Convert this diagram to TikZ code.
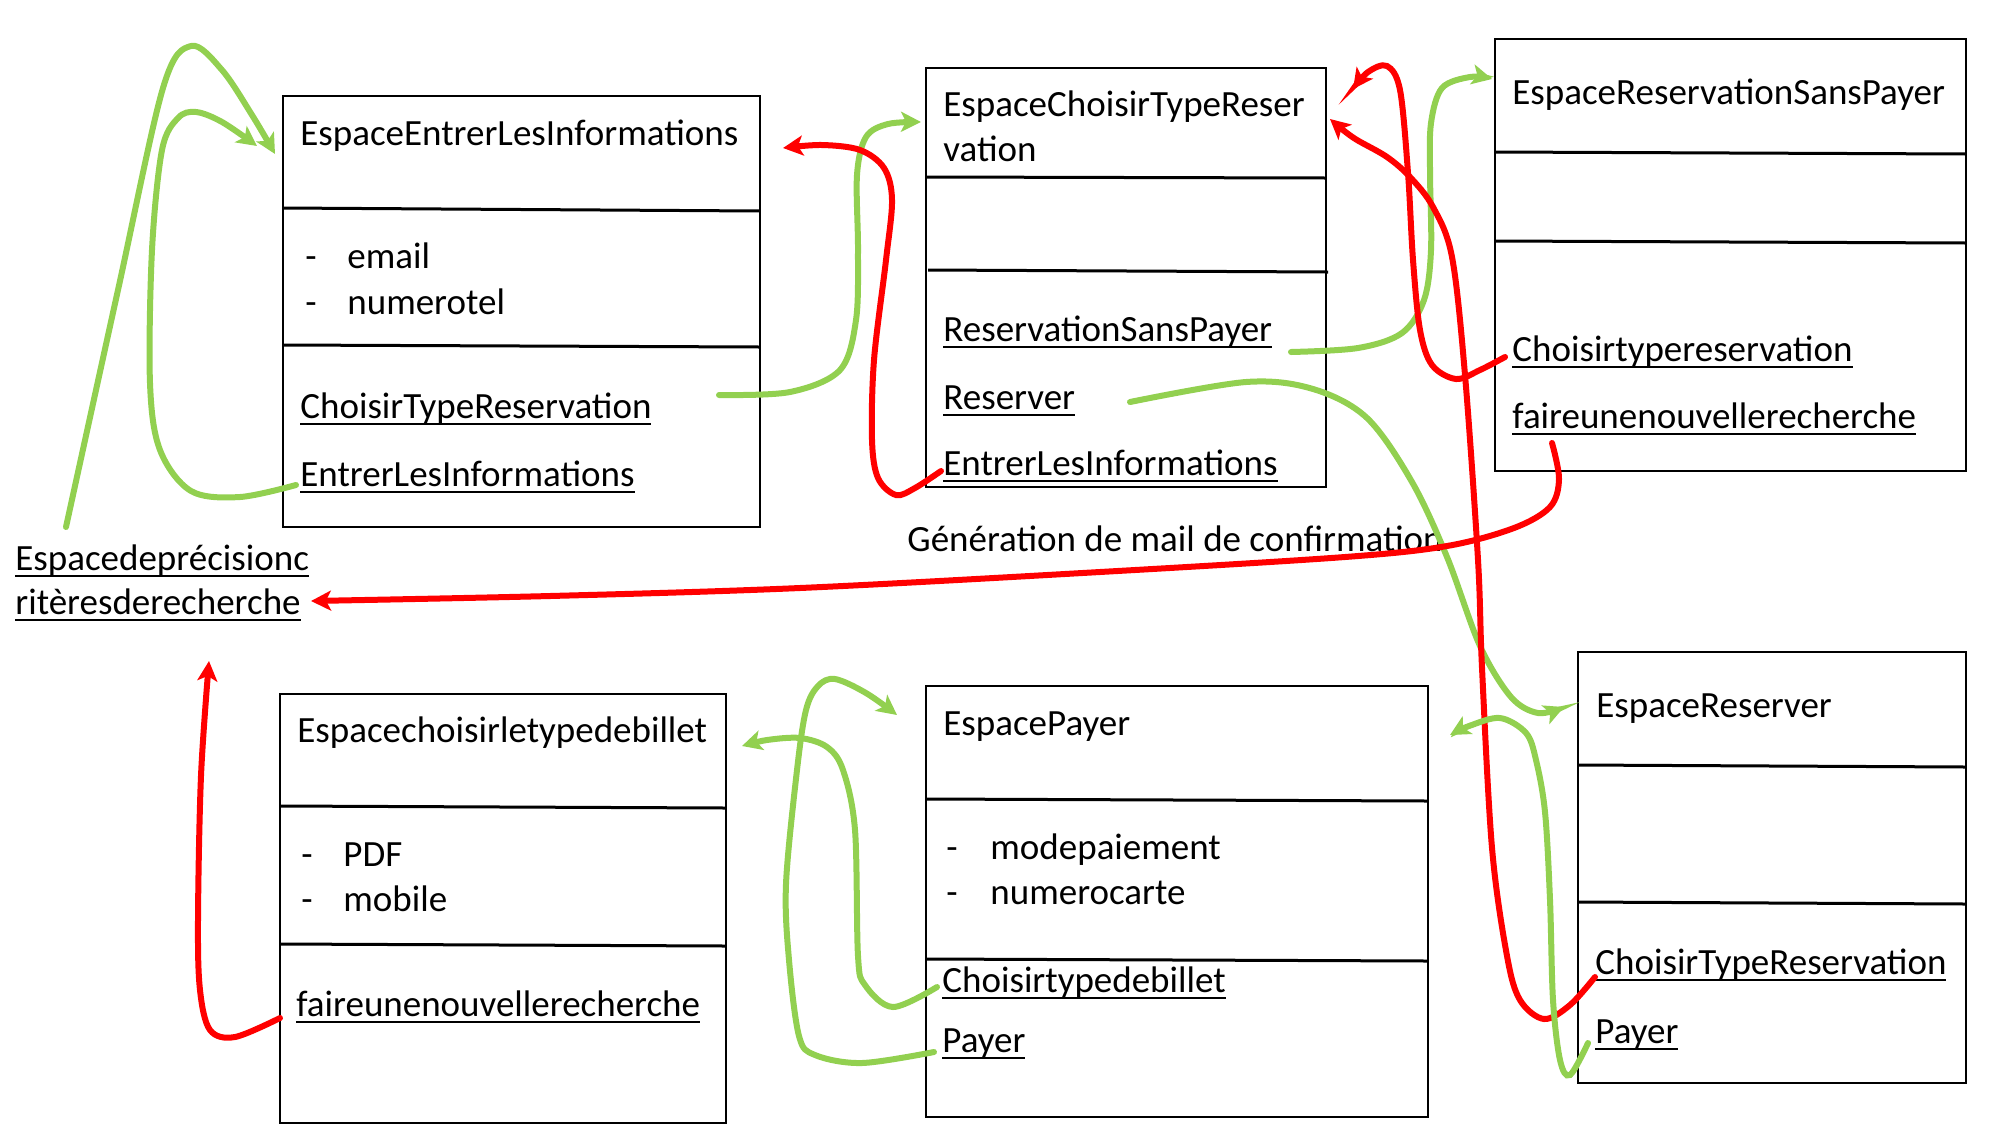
\documentclass[tikz,border=0pt]{standalone}
\usepackage{fontspec}
\setmainfont{Carlito}
\usetikzlibrary{arrows.meta}
\definecolor{lgreen}{HTML}{92D050}
\definecolor{lred}{HTML}{FF0000}
\newcommand\myul[1]{\setbox0\hbox{#1}\rlap{\rule[-3.3pt]{\wd0}{0.9pt}}\box0}
\begin{document}
\begin{tikzpicture}[x=0.5pt,y=-0.5pt,
  txt/.style={anchor=base west,inner sep=0pt,font=\fontsize{18.5}{23}\selectfont},
  umlbox/.style={draw=black,line width=1pt,anchor=north west,inner sep=0pt,outer sep=0pt},
  divline/.style={black,line width=1.5pt},
  gconn/.style={lgreen,line width=3pt,line cap=round,-{Stealth[length=10pt,width=10pt,inset=2.5pt]}},
  rconn/.style={lred,line width=3pt,line cap=round,-{Stealth[length=10pt,width=10pt,inset=2.5pt]}}]
\useasboundingbox (0,0) rectangle (2000,1125);
% boxes
\node[umlbox,minimum width=238.5pt,minimum height=215.5pt] (b1) at (283,96) {};
\node[umlbox,minimum width=200pt,minimum height=209.5pt] (b2) at (926,68) {};
\node[umlbox,minimum width=235.5pt,minimum height=216pt] (b3) at (1495,39) {};
\node[umlbox,minimum width=223pt,minimum height=214.5pt] (b4) at (280,694) {};
\node[umlbox,minimum width=251pt,minimum height=215.5pt] (b5) at (926,686) {};
\node[umlbox,minimum width=194pt,minimum height=215.5pt] (b6) at (1578,652) {};
% dividers
\draw[divline] (283,208) -- (760,211);
\draw[divline] (283,345) -- (760,347);
\draw[divline] (926,177) -- (1326,178);
\draw[divline] (928,270) -- (1328,272);
\draw[divline] (1495,152) -- (1966,154);
\draw[divline] (1495,241) -- (1966,243);
\draw[divline] (280,806) -- (726,808);
\draw[divline] (280,944) -- (726,946);
\draw[divline] (926,799) -- (1428,801);
\draw[divline] (926,959) -- (1428,961);
\draw[divline] (1578,765) -- (1966,767);
\draw[divline] (1578,902) -- (1966,904);
% box 1
\node[txt] (t1) at (300,145) {EspaceEntrerLesInformations};
\node[txt] (a1d1) at (305,268) {-};
\node[txt] (a1a) at (347,268) {email};
\node[txt] (a1d2) at (305,314) {-};
\node[txt] (a1b) at (347,314) {numerotel};
\node[txt] (o1a) at (300,418) {\myul{ChoisirTypeReservation}};
\node[txt] (o1b) at (300,486) {\myul{EntrerLesInformations}};
% box 2
\node[txt] (t2a) at (943,116) {EspaceChoisirTypeReser};
\node[txt] (t2b) at (943,161) {vation};
\node[txt] (o2a) at (943,341) {\myul{ReservationSansPayer}};
\node[txt] (o2b) at (943,409) {\myul{Reserver}};
\node[txt] (o2c) at (943,475) {\myul{EntrerLesInformations}};
% box 3
\node[txt] (t3) at (1512,104) {EspaceReservationSansPayer};
\node[txt] (o3a) at (1512,361) {\myul{Choisirtypereservation}};
\node[txt] (o3b) at (1512,428) {\myul{faireunenouvellerecherche}};
% box 4
\node[txt] (t4) at (297,742) {Espacechoisirletypedebillet};
\node[txt] (a4d1) at (301,866) {-};
\node[txt] (a4a) at (343,866) {PDF};
\node[txt] (a4d2) at (301,911) {-};
\node[txt] (a4b) at (343,911) {mobile};
\node[txt] (o4a) at (296,1016) {\myul{faireunenouvellerecherche}};
% box 5
\node[txt] (t5) at (943,735) {EspacePayer};
\node[txt] (a5d1) at (946,859) {-};
\node[txt] (a5a) at (990,859) {modepaiement};
\node[txt] (a5d2) at (946,904) {-};
\node[txt] (a5b) at (990,904) {numerocarte};
\node[txt] (o5a) at (942,992) {\myul{Choisirtypedebillet}};
\node[txt] (o5b) at (942,1052) {\myul{Payer}};
% box 6
\node[txt] (t6) at (1596,717) {EspaceReserver};
\node[txt] (o6a) at (1595,974) {\myul{ChoisirTypeReservation}};
\node[txt] (o6b) at (1595,1043) {\myul{Payer}};
% free labels
\node[txt] (l1a) at (15,570) {\myul{Espacedeprécisionc}};
\node[txt] (l1b) at (15,614) {\myul{ritèresderecherche}};
\node[txt] (gen) at (907,551) {Génération de mail de confirmation};
% connector ends
\coordinate (g1s) at (66,527);   \coordinate (g1e) at (275,154);
\coordinate (g2s) at (296,485);  \coordinate (g2e) at (257,146);
\coordinate (g3s) at (719,395);  \coordinate (g3e) at (921,122);
\coordinate (r1s) at (941,471);  \coordinate (r1e) at (783,148);
\coordinate (g4s) at (1291,352); \coordinate (g4e) at (1492,79);
\coordinate (g5s) at (1130,402); \coordinate (g5e) at (1564,707);
\coordinate (r2s) at (1505,357); \coordinate (r2e) at (1353,89);
\coordinate (r3s) at (1595,977); \coordinate (r3e) at (1330,119);
\coordinate (r4s) at (1552,443); \coordinate (r4e) at (311,601);
\coordinate (r5s) at (280,1018); \coordinate (r5e) at (209,661);
\coordinate (g6s) at (937,987);  \coordinate (g6e) at (742,746);
\coordinate (g7s) at (934,1052); \coordinate (g7e) at (897,715);
\coordinate (g8s) at (1588,1043);\coordinate (g8e) at (1450,735);
% connectors
\draw[gconn] plot[smooth,tension=0.55] coordinates {(g1s) (118,290) (163,88) (191,46) (222,70) (252,115) (g1e)};
\draw[gconn] plot[smooth,tension=0.55] coordinates {(g2s) (240,497) (191,491) (160,450) (150,383) (152,250) (162,150) (178,118) (196,112) (222,122) (g2e)};
\draw[gconn] plot[smooth,tension=0.55] coordinates {(g3s) (790,392) (840,370) (856,320) (858,250) (857,175) (866,137) (888,124) (g3e)};
\draw[rconn] plot[smooth,tension=0.55] coordinates {(r1s) (915,488) (896,495) (878,478) (872,440) (874,360) (886,260) (892,200) (884,168) (860,150) (822,145) (r1e)};
\draw[gconn] plot[smooth,tension=0.55] coordinates {(g4s) (1358,348) (1402,333) (1424,300) (1431,250) (1430,173) (1431,123) (1442,88) (1470,77) (g4e)};
\draw[gconn] plot[smooth,tension=0.55] coordinates {(g5s) (1246,382) (1313,389) (1367,418) (1412,482) (1447,557) (1480,646) (1511,697) (1538,713) (g5e)};
\draw[rconn] plot[smooth,tension=0.55] coordinates {(r2s) (1480,370) (1456,379) (1432,365) (1420,330) (1413,260) (1408,173) (1400,90) (1387,66) (1368,72) (r2e)};
\draw[rconn] plot[smooth,tension=0.55] coordinates {(r3s) (1570,1005) (1544,1019) (1520,1000) (1507,956) (1492,848) (1482,668) (1478,560) (1465,375) (1452,257) (1433,207) (1410,177) (1387,157) (1357,140) (1343,130) (r3e)};
\draw[rconn] plot[smooth,tension=0.55] coordinates {(r4s) (1559,479) (1550,507) (1514,528) (1447,546) (1345,557) (1100,572) (800,588) (550,596) (r4e)};
\draw[rconn] plot[smooth,tension=0.55] coordinates {(r5s) (235,1037) (210,1030) (200,990) (198,920) (201,776) (r5e)};
\draw[gconn] plot[smooth,tension=0.55] coordinates {(g6s) (893,1007) (865,985) (858,956) (855,830) (843,770) (827,747) (800,738) (767,740) (g6e)};
\draw[gconn] plot[smooth,tension=0.55] coordinates {(g7s) (862,1063) (815,1055) (799,1036) (789,960) (786,884) (797,770) (806,710) (818,686) (835,679) (866,693) (g7e)};
\draw[gconn] plot[smooth,tension=0.55] coordinates {(g8s) (1570,1075) (1560,1060) (1553,1000) (1550,900) (1545,812) (1536,760) (1526,733) (1500,718) (1469,726) (g8e)};
\end{tikzpicture}
\end{document}
